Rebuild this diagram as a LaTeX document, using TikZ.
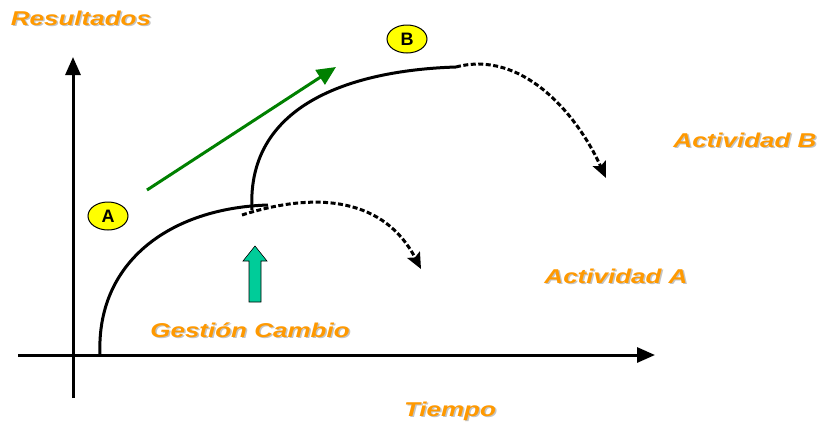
\documentclass[tikz,border=0pt]{standalone}
\usepackage{fontspec}
\setmainfont{Liberation Sans}
\usetikzlibrary{arrows.meta,shapes.geometric,calc}
\definecolor{orangeT}{HTML}{FF9900}
\definecolor{shadowG}{HTML}{C4C4C4}
\definecolor{greenA}{HTML}{008000}
\definecolor{tealA}{HTML}{00CC99}
\definecolor{yellowE}{HTML}{FFFF00}
\newcommand\wide[1]{\scalebox{1.3}[1]{#1}}
\newcommand\shadowed[1]{\makebox[0pt][l]{\hspace{1.5pt}\raisebox{-1.5pt}{\textcolor{shadowG}{\wide{#1}}}}\wide{#1}}
\tikzset{
  lbl/.style={font=\fontsize{20}{24}\selectfont\bfseries\itshape, text=orangeT, inner sep=0pt},
  axisline/.style={line width=3pt, -{Triangle[length=18pt,width=15pt]}},
  solidcurve/.style={line width=3pt},
  dashcurve/.style={line width=3pt, dash pattern=on 5pt off 2.5pt, -{Stealth[length=16pt,width=14pt,inset=3pt]}},
  greenarrow/.style={line width=3pt, draw=greenA, -{Triangle[length=19pt,width=17pt]}, color=greenA},
  marker/.style={ellipse, draw=black, line width=1pt, fill=yellowE, minimum width=40pt, minimum height=28pt, inner sep=0pt, font=\fontsize{18}{20}\selectfont\bfseries},
}
\begin{document}
\begin{tikzpicture}[x=1pt,y=-1pt]
\useasboundingbox (0,0) rectangle (822,429);
% axes
\coordinate (yb) at (73,398);
\coordinate (yt) at (73,57);
\coordinate (xl) at (18,355);
\coordinate (xr) at (655,355);
\draw[axisline] (yb) -- (yt);
\draw[axisline] (xl) -- (xr);
% curve A
\coordinate (a0) at (100,355);
\coordinate (a1) at (268,205);
\draw[solidcurve] (a0) .. controls (96,262) and (170,208) .. (a1);
\coordinate (ad0) at (242,215);
\coordinate (ad1) at (421,269);
\draw[dashcurve] (ad0) .. controls (320,190) and (385,200) .. (ad1);
% curve B
\coordinate (b0) at (252,210);
\coordinate (b1) at (456,67);
\draw[solidcurve] (b0) .. controls (246,100) and (360,70) .. (b1);
\coordinate (bd1) at (606,178);
\draw[dashcurve] (b1) .. controls (520,50) and (575,110) .. (bd1);
% green arrow
\coordinate (g0) at (147,190);
\coordinate (g1) at (336,67);
\draw[greenarrow] (g0) -- (g1);
% up block arrow
\draw[fill=tealA, draw=black, line width=0.6pt] (249,302) -- (249,261) -- (243,261) -- (255,246) -- (267,261) -- (261,261) -- (261,302) -- cycle;
% markers
\node[marker] (mA) at (108,216) {A};
\node[marker] (mB) at (407,39) {B};
% labels with shadow
\node[lbl] (t1) at (81,19) {\shadowed{Resultados}};
\node[lbl] (t2) at (745,141) {\shadowed{Actividad B}};
\node[lbl] (t3) at (616,277) {\shadowed{Actividad A}};
\node[lbl] (t4) at (250,331) {\shadowed{Gestión Cambio}};
\node[lbl] (t5) at (450,412) {\shadowed{Tiempo}};
\end{tikzpicture}
\end{document}
